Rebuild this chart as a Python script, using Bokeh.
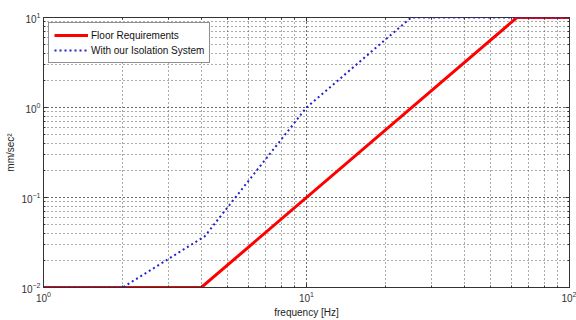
from bokeh.plotting import figure
from bokeh.models import Range1d, LogAxis, LogTicker, Legend, LegendItem
from bokeh.embed import file_html
from bokeh.resources import INLINE

# Data
floor_freq = [1.0, 3.98, 63.1, 100.0]
floor_acc = [0.01, 0.01, 10.0, 10.0]
iso_freq = [1.0, 2.0, 4.1, 10.0, 25.0, 100.0]
iso_acc = [0.01, 0.01, 0.037, 1.0, 10.0, 10.0]
x_decades = [1, 10, 100]
y_decades = [0.01, 0.1, 1, 10]

FONT = "Liberation Sans"

p = figure(width=576, height=320, x_axis_type="log", y_axis_type="log",
           x_range=Range1d(1, 100), y_range=Range1d(0.01, 10),
           output_backend="svg", toolbar_location=None,
           min_border_left=43, min_border_right=7, min_border_top=17, min_border_bottom=33)
p.background_fill_color = "white"
p.border_fill_color = "white"
p.outline_line_color = "#333333"
p.outline_line_width = 1

for ax in [p.xaxis[0], p.yaxis[0]]:
    ax.ticker = LogTicker(num_minor_ticks=10)
    ax.major_tick_in = 4
    ax.major_tick_out = 0
    ax.minor_tick_in = 2
    ax.minor_tick_out = 0
    ax.axis_line_color = "#333333"
    ax.major_tick_line_color = "#333333"
    ax.minor_tick_line_color = "#333333"
    ax.major_label_text_font = FONT
    ax.major_label_text_font_size = "10px"
    ax.major_label_text_color = "#333333"
    ax.axis_label_text_font = FONT
    ax.axis_label_text_font_size = "10px"
    ax.axis_label_text_font_style = "normal"
    ax.axis_label_text_color = "#222222"

p.xaxis.axis_label = "frequency [Hz]"
p.yaxis.axis_label = "mm/sec²"
p.xaxis.major_label_standoff = 3
p.yaxis.major_label_standoff = 3
p.xaxis.axis_label_standoff = 2
p.yaxis.axis_label_standoff = 2

for g in [p.xgrid[0], p.ygrid[0]]:
    g.ticker = LogTicker(num_minor_ticks=10)
    g.grid_line_color = "#555555"
    g.grid_line_dash = "1 3"
    g.grid_line_width = 1
    g.minor_grid_line_color = "#555555"
    g.minor_grid_line_dash = "1 3"
    g.minor_grid_line_width = 1

# mirrored ticks on top and right (labels blanked)
for loc, decs in [("above", x_decades), ("right", y_decades)]:
    ax = LogAxis(ticker=LogTicker(num_minor_ticks=10),
                 major_label_overrides={d: "" for d in decs},
                 major_tick_in=4, major_tick_out=0, minor_tick_in=2, minor_tick_out=0,
                 major_tick_line_color="#333333", minor_tick_line_color="#333333",
                 major_label_standoff=0, axis_line_color=None)
    p.add_layout(ax, loc)

r1 = p.line(floor_freq, floor_acc, line_color="#ff0000", line_width=3)
r2 = p.line(iso_freq, iso_acc, line_color="#2222cc", line_width=2, line_dash="2 3")

legend = Legend(items=[LegendItem(label="Floor Requirements", renderers=[r1]),
                       LegendItem(label="With our Isolation System", renderers=[r2])],
                location="top_left")
legend.label_text_font = FONT
legend.label_text_font_size = "10px"
legend.label_text_color = "#111111"
legend.glyph_width = 34
legend.glyph_height = 12
legend.label_height = 14
legend.label_standoff = 3
legend.spacing = 1
legend.padding = 5
legend.margin = 5
legend.border_line_color = "#222222"
legend.border_line_width = 1
legend.background_fill_color = "white"
legend.background_fill_alpha = 1
p.add_layout(legend)

open("out.html", "w").write(file_html(p, INLINE))
